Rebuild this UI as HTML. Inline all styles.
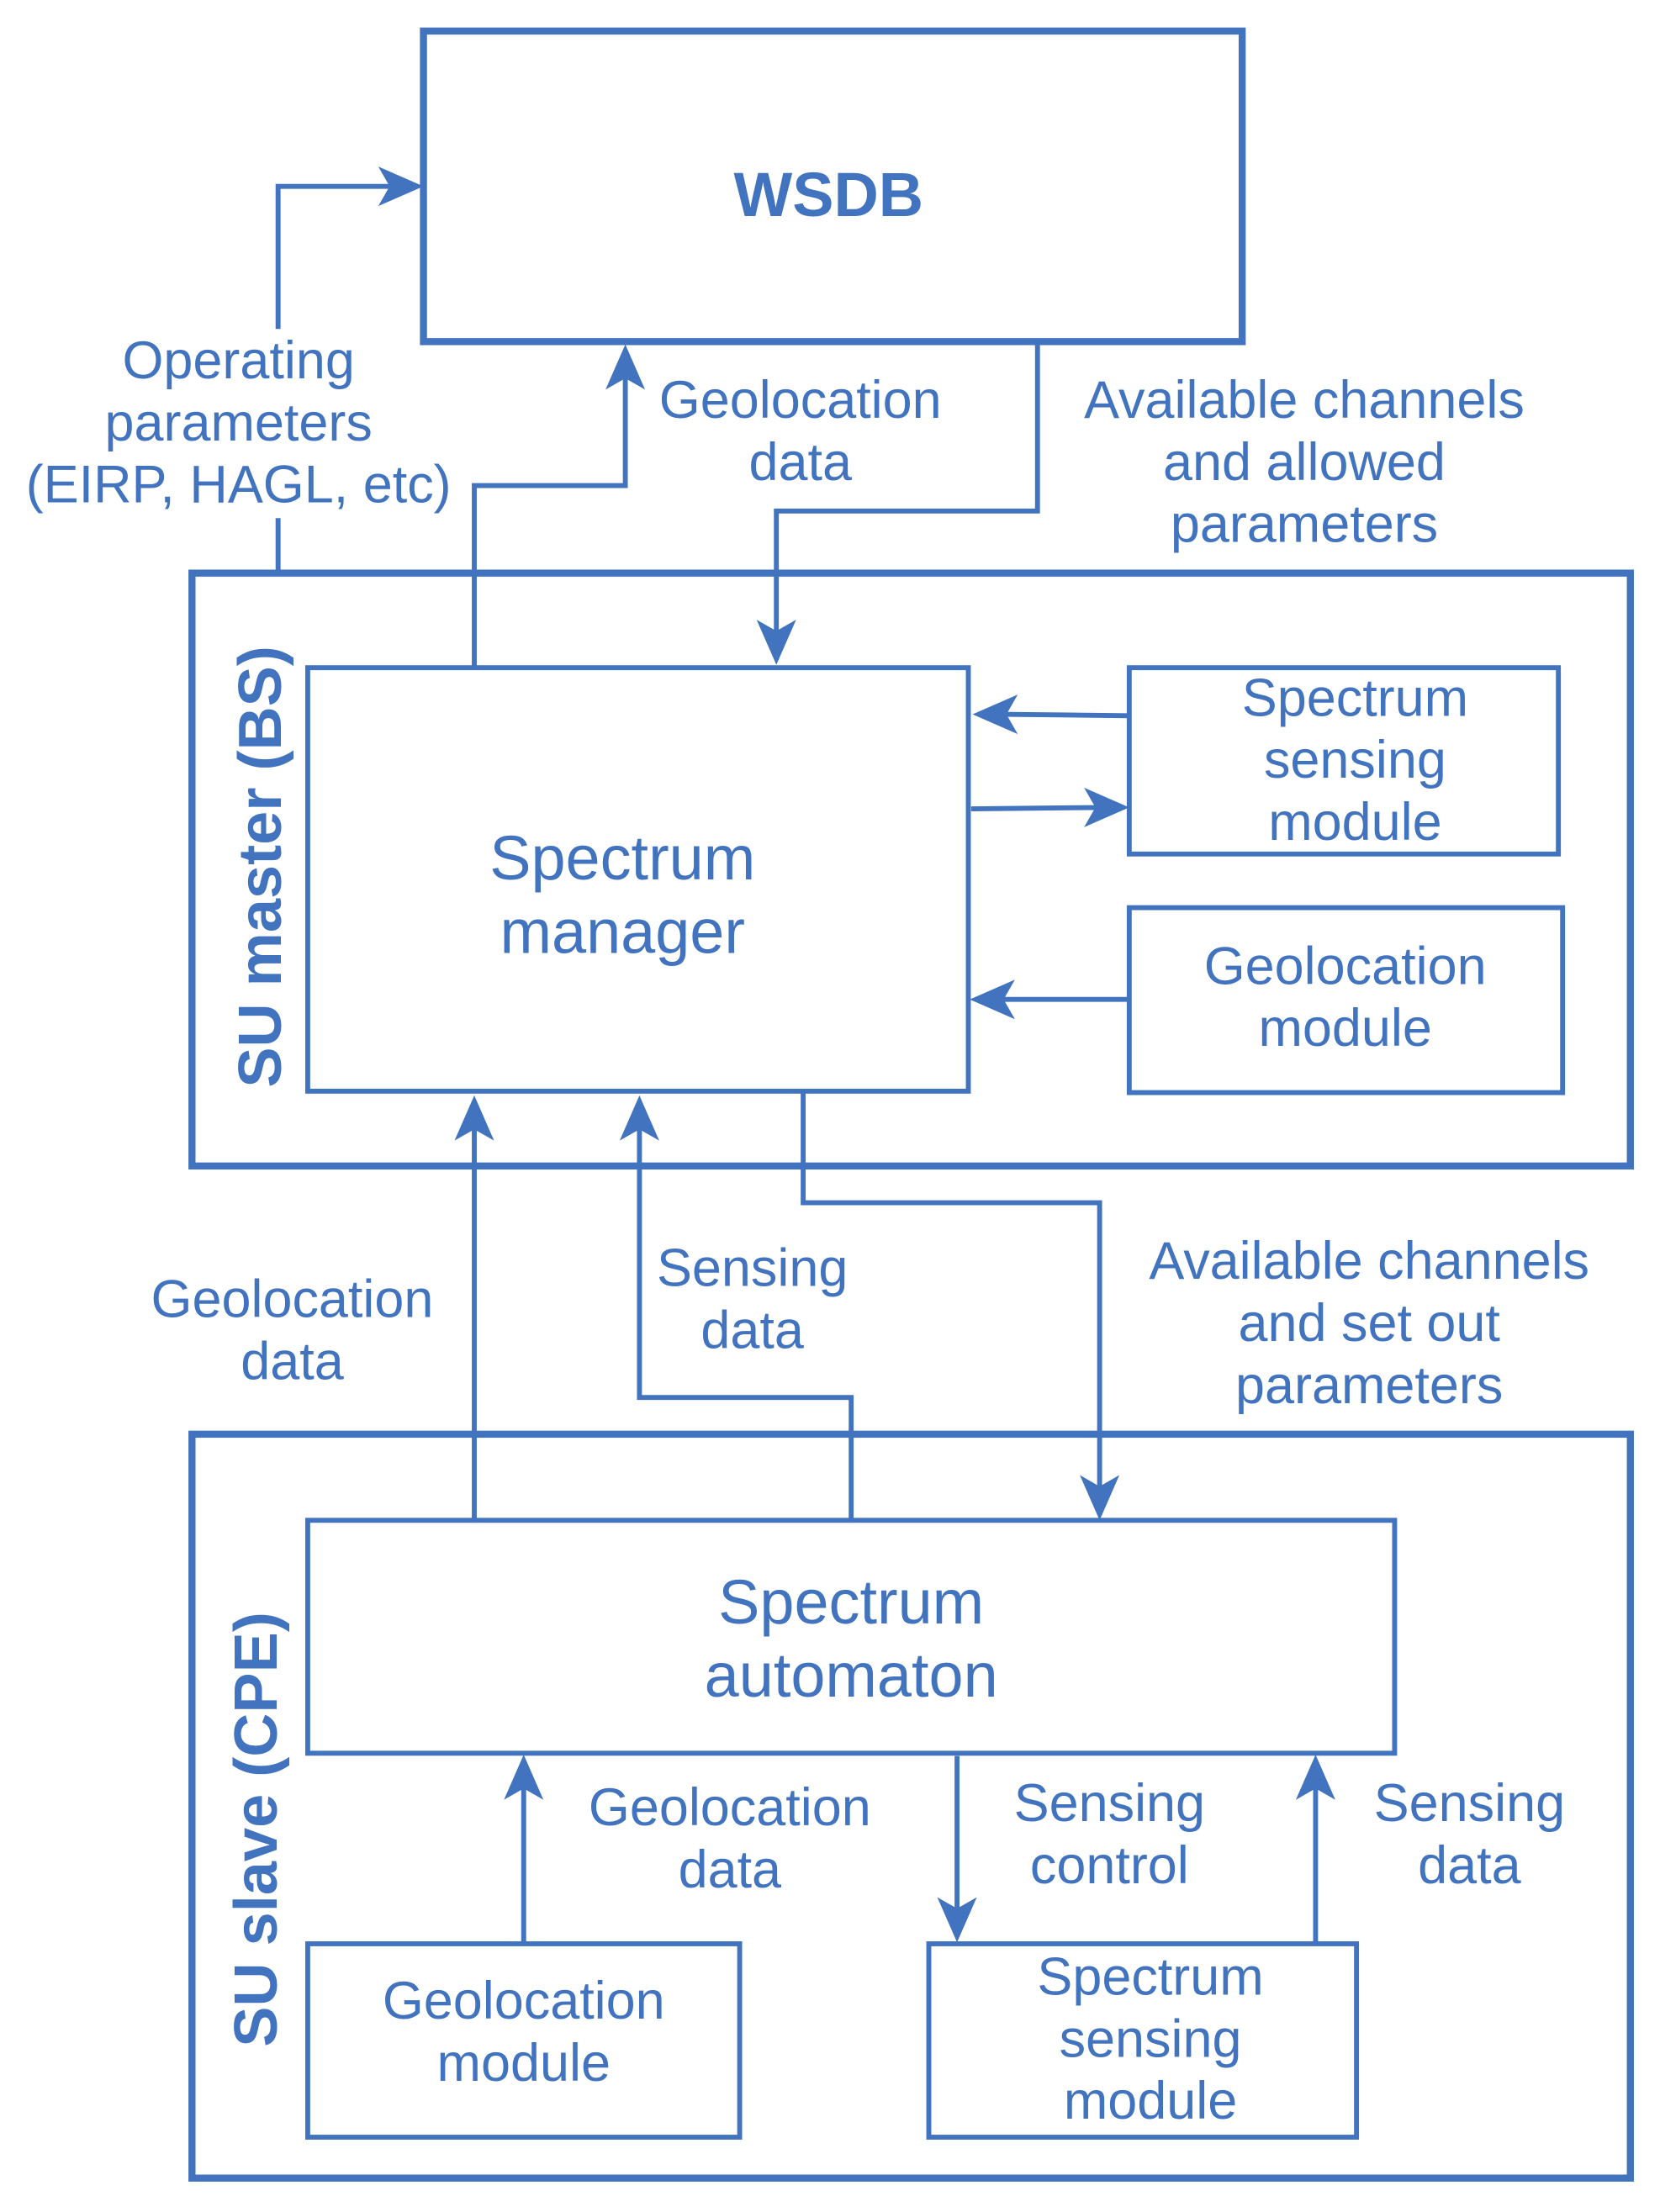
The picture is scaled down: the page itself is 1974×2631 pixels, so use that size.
<!DOCTYPE html>
<html><head><meta charset="utf-8"><style>html,body{margin:0;padding:0;background:#fff}svg{display:block}</style></head>
<body>
<svg width="1974" height="2631" viewBox="0 0 1176 1567" preserveAspectRatio="none" xmlns="http://www.w3.org/2000/svg">
<g fill="none" stroke="#4273bf" stroke-linejoin="miter">
<rect x="300" y="22" width="580" height="220" stroke-width="5"/>
<rect x="136" y="406" width="1019" height="420" stroke-width="5"/>
<rect x="136" y="1016" width="1019" height="527" stroke-width="5"/>
<g stroke-width="3.5">
<rect x="218" y="473" width="468" height="300"/>
<rect x="800" y="473" width="304" height="132"/>
<rect x="800" y="643" width="307" height="131"/>
<rect x="218" y="1077" width="770" height="165"/>
<rect x="218" y="1377" width="306" height="137"/>
<rect x="658" y="1377" width="303" height="137"/>
<polyline points="197,406 197,367"/>
<polyline points="197,233 197,132 280,132"/>
<polyline points="336,473 336,344 443,344 443,262"/>
<polyline points="735,242 735,362 550,362 550,452"/>
<polyline points="800,507 708,506"/>
<polyline points="688,573 782,572"/>
<polyline points="800,708 706,708"/>
<polyline points="336,1077 336,795"/>
<polyline points="603,1077 603,990 453,990 453,795"/>
<polyline points="569,773 569,852 779,852 779,1058"/>
<polyline points="371,1377 371,1262"/>
<polyline points="678,1244 678,1357"/>
<polyline points="932,1377 932,1262"/>
</g>
</g>
<g fill="#4273bf">
<polygon points="300,132 268,118 276,132 268,146"/>
<polygon points="443,244 429,276 443,268 457,276"/>
<polygon points="550,471 536,439 550,447 564,439"/>
<polygon points="689,506 721,492 713,506 721,520"/>
<polygon points="800,572 768,558 776,572 768,586"/>
<polygon points="687,708 719,694 711,708 719,722"/>
<polygon points="336,776 322,808 336,800 350,808"/>
<polygon points="453,776 439,808 453,800 467,808"/>
<polygon points="779,1077 765,1045 779,1053 793,1045"/>
<polygon points="371,1243 357,1275 371,1267 385,1275"/>
<polygon points="678,1376 664,1344 678,1352 692,1344"/>
<polygon points="932,1243 918,1275 932,1267 946,1275"/>
</g>
<g fill="#4273bf" font-family="Liberation Sans, sans-serif" font-size="37.5" text-anchor="middle">
<text x="587" y="153" font-size="44" font-weight="bold">WSDB</text>
<text x="169" y="268">Operating</text>
<text x="169" y="312">parameters</text>
<text x="169" y="356">(EIRP, HAGL, etc)</text>
<text x="567" y="296">Geolocation</text>
<text x="567" y="340">data</text>
<text x="924" y="296">Available channels</text>
<text x="924" y="340">and allowed</text>
<text x="924" y="384">parameters</text>
<text x="441" y="623" font-size="44">Spectrum</text>
<text x="441" y="675" font-size="44">manager</text>
<text x="960" y="507">Spectrum</text>
<text x="960" y="551">sensing</text>
<text x="960" y="595">module</text>
<text x="953" y="697">Geolocation</text>
<text x="953" y="741">module</text>
<text x="207" y="933">Geolocation</text>
<text x="207" y="977">data</text>
<text x="533" y="911">Sensing</text>
<text x="533" y="955">data</text>
<text x="970" y="906">Available channels</text>
<text x="970" y="950">and set out</text>
<text x="970" y="994">parameters</text>
<text x="603" y="1150" font-size="44">Spectrum</text>
<text x="603" y="1202" font-size="44">automaton</text>
<text x="517" y="1293">Geolocation</text>
<text x="517" y="1337">data</text>
<text x="786" y="1290">Sensing</text>
<text x="786" y="1334">control</text>
<text x="1041" y="1290">Sensing</text>
<text x="1041" y="1334">data</text>
<text x="371" y="1430">Geolocation</text>
<text x="371" y="1474">module</text>
<text x="815" y="1413">Spectrum</text>
<text x="815" y="1457">sensing</text>
<text x="815" y="1501">module</text>
<text transform="translate(199,614) rotate(-90)" font-weight="bold" font-size="43">SU master (BS)</text>
<text transform="translate(196,1296) rotate(-90)" font-weight="bold" font-size="43">SU slave (CPE)</text>
</g>
</svg>
</body></html>
